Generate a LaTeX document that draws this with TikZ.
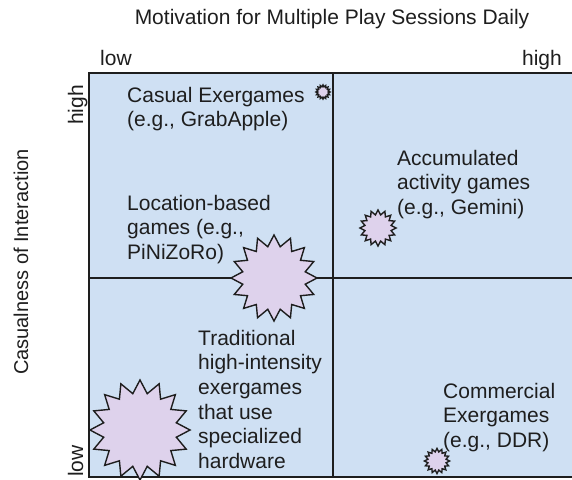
\documentclass[tikz,border=0pt]{standalone}
\usepackage{fontspec}
\setmainfont{Liberation Sans}
\usetikzlibrary{shapes.geometric}
\definecolor{quad}{RGB}{207,224,243}
\definecolor{burstc}{RGB}{222,210,236}
\definecolor{ink}{RGB}{30,30,30}
\begin{document}
\begin{tikzpicture}[x=1bp,y=-1bp,
  txt/.style={inner sep=0, text=ink, font=\fontsize{21bp}{24.7bp}\selectfont},
  lbl/.style={txt, anchor=north west, align=left},
  burst/.style={star, star points=16, star point ratio=1.35, draw=ink, line width=1.4bp, fill=burstc, inner sep=0, minimum size=#1},
  frame/.style={draw=ink, line width=1.6bp}]
\useasboundingbox (0,0) rectangle (572,480);
% quadrant field
\fill[quad] (89,73) rectangle (580,477);
\draw[frame] (580,73) -- (89,73) -- (89,477) -- (580,477);
\draw[frame] (333,73) -- (333,477);
\draw[frame] (89,278) -- (580,278);
% axis texts
\node[txt, anchor=base] (title) at (332,25) {Motivation for Multiple Play Sessions Daily};
\node[txt, anchor=base west] (xlow) at (100,66) {low};
\node[txt, anchor=base east] (xhigh) at (562,66) {high};
\node[txt, anchor=base, rotate=90] (yhigh) at (83,105) {high};
\node[txt, anchor=base, rotate=90] (ylow) at (83,461) {low};
\node[txt, anchor=base, rotate=90, font=\fontsize{20bp}{24bp}\selectfont] (yaxis) at (28,262) {Casualness of Interaction};
% bursts
\node[burst=14bp] (cs) at (323,92) {};
\node[burst=86bp] (ls) at (274,278) {};
\node[burst=36bp] (as) at (378,228) {};
\node[burst=100bp] (ts) at (140,430) {};
\node[burst=25bp] (ds) at (437,461) {};
% labels
\node[lbl] (casual) at (127,84.7) {\strut Casual Exergames\\(e.g., GrabApple)};
\node[lbl] (loc) at (127,192.7) {\strut Location-based\\games (e.g.,\\PiNiZoRo)};
\node[lbl] (acc) at (397,147.7) {\strut Accumulated\\activity games\\(e.g., Gemini)};
\node[lbl] (trad) at (198,327.7) {\strut Traditional\\high-intensity\\exergames\\that use\\specialized\\hardware};
\node[lbl] (comm) at (443,380.7) {\strut Commercial\\Exergames\\(e.g., DDR)};
\end{tikzpicture}
\end{document}
